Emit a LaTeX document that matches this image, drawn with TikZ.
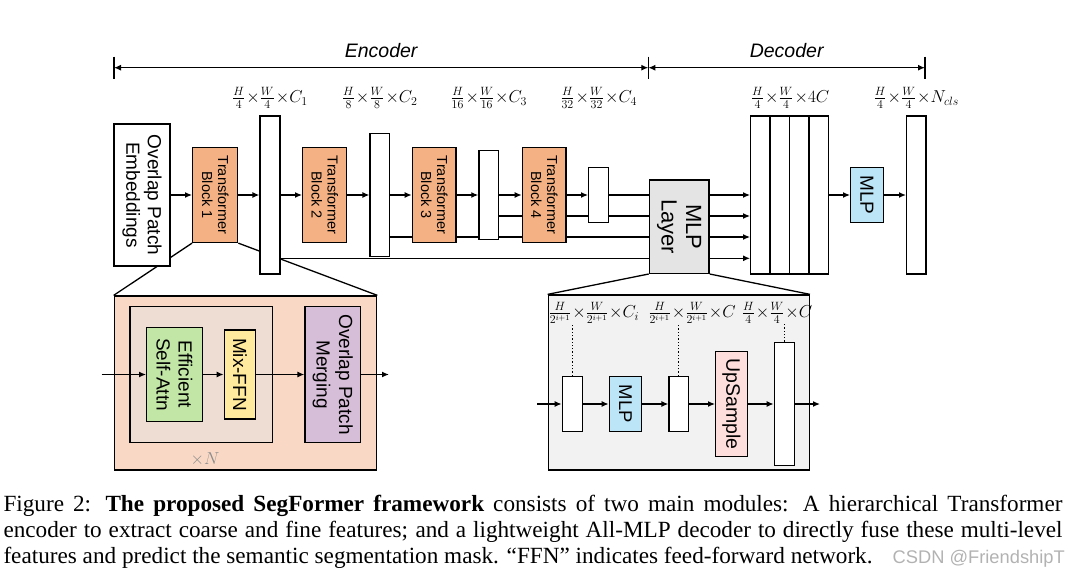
\documentclass[tikz,border=0pt]{standalone}
\usepackage{fontspec}
\setmainfont{Liberation Serif}
\setsansfont{Liberation Sans}
\usetikzlibrary{arrows.meta}
\definecolor{tborange}{HTML}{F4B183}
\definecolor{mlpblue}{HTML}{BDE5F8}
\definecolor{mlpgray}{HTML}{E4E4E4}
\definecolor{encpeach}{HTML}{F9D9C5}
\definecolor{innerpink}{HTML}{EEDDD3}
\definecolor{attngreen}{HTML}{C2E6A6}
\definecolor{ffnyellow}{HTML}{FFEA9D}
\definecolor{mergepurple}{HTML}{D6BDD8}
\definecolor{decgray}{HTML}{F2F2F2}
\definecolor{uppink}{HTML}{FDDEDD}
\pgfdeclarelayer{bg}
\pgfsetlayers{bg,main}
\newcommand{\tms}{\mskip1mu{\times}}
\tikzset{
	blk/.style={draw,line width=1.3pt,inner sep=0pt,fill=white},
	arr/.style={line width=1.3pt,-{Latex[length=7pt,width=6pt]}},
	lnk/.style={line width=1.3pt},
	vtxt/.style={rotate=-90,align=center,inner sep=0pt},
	dim/.style={font=\fontsize{16.5}{18}\selectfont,inner sep=0pt},
	span/.style={line width=1.3pt,{Latex[length=7pt,width=6pt]}-{Latex[length=7pt,width=6pt]}},
}
\begin{document}
\begin{tikzpicture}[x=1pt,y=-1pt]
	\useasboundingbox (0,0) rectangle (1069,573);
	\coordinate (r2) at (0,216);
	\coordinate (r3) at (0,237);
	\coordinate (r4) at (0,258.3);
	\coordinate (lrow) at (0,98);
	% encoder / decoder spans
	\coordinate (tl) at (114,67.7);
	\coordinate (tm) at (648.3,67.7);
	\coordinate (tr) at (925,67.7);
	\draw[lnk] (114,56.7)--(114,79);
	\draw[lnk] (648.3,56.7)--(648.3,79);
	\draw[lnk] (925,56.7)--(925,79);
	\draw[span] (tl)--(tm) node[midway,above=6pt,font=\sffamily\itshape\fontsize{19.5}{20}\selectfont]{Encoder};
	\draw[span] (tm)--(tr) node[midway,above=6pt,font=\sffamily\itshape\fontsize{19.5}{20}\selectfont]{Decoder};
	% encoder
	\node[blk,minimum width=56,minimum height=142] (emb) at (142,195) {};
	\node[vtxt,font=\sffamily\fontsize{19}{21.5}\selectfont] at (emb) {Overlap Patch\\Embeddings};
	\node[blk,fill=tborange,minimum width=45,minimum height=95] (tb1) at (215.2,195) {};
	\node[blk,minimum width=20,minimum height=158] (f1) at (270,195) {};
	\node[blk,fill=tborange,minimum width=44,minimum height=95] (tb2) at (324.7,195) {};
	\node[blk,minimum width=19.3,minimum height=123] (f2) at (379.7,195) {};
	\node[blk,fill=tborange,minimum width=43.7,minimum height=95] (tb3) at (434.2,195) {};
	\node[blk,minimum width=19.7,minimum height=88.6] (f3) at (488.8,195) {};
	\node[blk,fill=tborange,minimum width=43.7,minimum height=95] (tb4) at (544.2,195) {};
	\node[blk,minimum width=20,minimum height=55] (f4) at (598.7,195) {};
	\foreach \t/\n in {tb1/1,tb2/2,tb3/3,tb4/4}
		\node[vtxt,font=\sffamily\fontsize{14.5}{16}\selectfont] at (\t) {Transformer\\Block \n};
	\node[dim] at (f1 |- lrow) {$\frac{H}{4}\tms\frac{W}{4}\tms C_1$};
	\node[dim] at (f2 |- lrow) {$\frac{H}{8}\tms\frac{W}{8}\tms C_2$};
	\node[dim] at (f3 |- lrow) {$\frac{H}{16}\tms\frac{W}{16}\tms C_3$};
	\node[dim] at (f4 |- lrow) {$\frac{H}{32}\tms\frac{W}{32}\tms C_4$};
	% decoder
	\node[blk,fill=mlpgray,minimum width=59.7,minimum height=93.3] (mlpl) at (679.2,226.7) {};
	\node[vtxt,font=\sffamily\fontsize{22}{24.5}\selectfont] at (mlpl) {MLP\\Layer};
	\foreach \i/\x in {1/760.4,2/779.8,3/799.2,4/818.6}
		\node[blk,minimum width=19.4,minimum height=158] (dc\i) at (\x,195) {};
	\node[blk,fill=mlpblue,minimum width=32.6,minimum height=55] (mlp2) at (867,195) {};
	\node[vtxt,font=\sffamily\fontsize{19}{20}\selectfont] at (mlp2) {MLP};
	\node[blk,minimum width=19.3,minimum height=158] (out) at (916.3,195) {};
	\node[dim] at (dc2.east |- lrow) {$\frac{H}{4}\tms\frac{W}{4}\tms 4C$};
	\node[dim] at (out |- lrow) {$\frac{H}{4}\tms\frac{W}{4}\tms N_{cls}$};
	\draw[arr] (emb)--(tb1);
	\draw[arr] (tb1)--(f1);
	\draw[arr] (f1)--(tb2);
	\draw[arr] (tb2)--(f2);
	\draw[arr] (f2)--(tb3);
	\draw[arr] (tb3)--(f3);
	\draw[arr] (f3)--(tb4);
	\draw[arr] (tb4)--(f4);
	\draw[lnk] (f4)--(f4 -| mlpl.west);
	\draw[arr] (mlpl.east |- dc1)--(dc1);
	\draw[arr] (mlpl.east |- r2)--(dc1.west |- r2);
	\draw[arr] (mlpl.east |- r3)--(dc1.west |- r3);
	\draw[arr] (mlpl.east |- r4)--(dc1.west |- r4);
	\draw[arr] (dc4)--(mlp2);
	\draw[arr] (mlp2)--(out);
	% encoder inset
	\node[blk,fill=encpeach,minimum width=262.4,minimum height=174] (encin) at (245.5,383) {};
	\node[blk,fill=innerpink,minimum width=142.7,minimum height=135.6] (rep) at (201.35,374.5) {};
	\node[blk,fill=attngreen,minimum width=55.6,minimum height=93.4] (esa) at (174.5,374.5) {};
	\node[vtxt,font=\sffamily\fontsize{19}{22}\selectfont] at (esa) {Efficient\\Self-Attn};
	\node[blk,fill=ffnyellow,minimum width=31.4,minimum height=89] (ffn) at (240,374.5) {};
	\node[vtxt,font=\sffamily\fontsize{19}{22}\selectfont] at (ffn) {Mix-FFN};
	\node[blk,fill=mergepurple,minimum width=55.7,minimum height=135.6] (opm) at (332.85,374.5) {};
	\node[vtxt,font=\sffamily\fontsize{19}{22.5}\selectfont] at (opm) {Overlap Patch\\Merging};
	\node[text=black!45,font=\fontsize{19}{20}\selectfont] at (205,459) {$\times N$};
	\coordinate (ein) at (101.7,374.5);
	\coordinate (eout) at (389,374.5);
	\draw[arr] (ein)--(esa);
	\draw[arr] (esa)--(ffn);
	\draw[arr] (ffn)--(opm);
	\draw[arr] (opm)--(eout);
	% decoder inset
	\node[blk,fill=decgray,minimum width=261,minimum height=175] (decin) at (678.8,382.5) {};
	\node[blk,minimum width=20.4,minimum height=55] (fa) at (572.5,404) {};
	\node[blk,fill=mlpblue,minimum width=32.4,minimum height=55] (mlp3) at (625.5,404) {};
	\node[vtxt,font=\sffamily\fontsize{18.5}{20}\selectfont] at (mlp3) {MLP};
	\node[blk,minimum width=19.3,minimum height=55] (fb) at (678.7,404) {};
	\node[blk,fill=uppink,minimum width=31.6,minimum height=104.7] (ups) at (731.5,404) {};
	\node[vtxt,font=\sffamily\fontsize{19.5}{20}\selectfont] at (ups) {UpSample};
	\node[blk,minimum width=20,minimum height=123.3] (fc) at (784.3,404) {};
	\node[dim] (la) at (594,313) {$\frac{H}{2^{i+1}}\tms\frac{W}{2^{i+1}}\tms C_i$};
	\node[dim] (lb) at (692,313) {$\frac{H}{2^{i+1}}\tms\frac{W}{2^{i+1}}\tms C$};
	\node[dim] (lc) at (777,313) {$\frac{H}{4}\tms\frac{W}{4}\tms C$};
	\draw[line width=1.3pt,dotted] (fa.north)--(fa.north |- la.south);
	\draw[line width=1.3pt,dotted] (fb.north)--(fb.north |- lb.south);
	\draw[line width=1.3pt,dotted] (fc.north)--(fc.north |- lc.south);
	\coordinate (din) at (537,404);
	\coordinate (dout) at (820,404);
	\draw[arr] (din)--(fa);
	\draw[arr] (fa)--(mlp3);
	\draw[arr] (mlp3)--(fb);
	\draw[arr] (fb)--(ups);
	\draw[arr] (ups)--(fc);
	\draw[arr] (fc)--(dout);
	\begin{pgfonlayer}{bg}
		\draw[lnk] (f3.east |- r2)--(mlpl.west |- r2);
		\draw[lnk] (f2.east |- r3)--(mlpl.west |- r3);
		\draw[lnk] (f1.east |- r4)--(mlpl.west |- r4);
		\draw[lnk] (tb1.south west)--(encin.north west);
		\draw[lnk] (tb1.south east)--(encin.north east);
		\draw[lnk] (mlpl.south west)--(decin.north west);
		\draw[lnk] (mlpl.south east)--(decin.north east);
	\end{pgfonlayer}
	% caption
	\begin{scope}[every node/.style={anchor=base west,inner sep=0pt,font=\fontsize{23.2}{26}\selectfont}]
		\node (cap1) at (3.3,511) {\makebox[1059pt][s]{Figure 2: \textbf{The proposed SegFormer framework} consists of two main modules: A hierarchical Transformer}};
		\node (cap2) at (3.3,537.7) {\makebox[1059pt][s]{encoder to extract coarse and fine features; and a lightweight All-MLP decoder to directly fuse these multi-level}};
		\node (cap3) at (3.3,563.3) {features and predict the semantic segmentation mask. “FFN” indicates feed-forward network.};
	\end{scope}
	\node[anchor=base east,inner sep=0pt,text=black!30,font=\sffamily\fontsize{18.3}{19}\selectfont] (wm) at (1065,563.3) {CSDN @FriendshipT};
\end{tikzpicture}
\end{document}
